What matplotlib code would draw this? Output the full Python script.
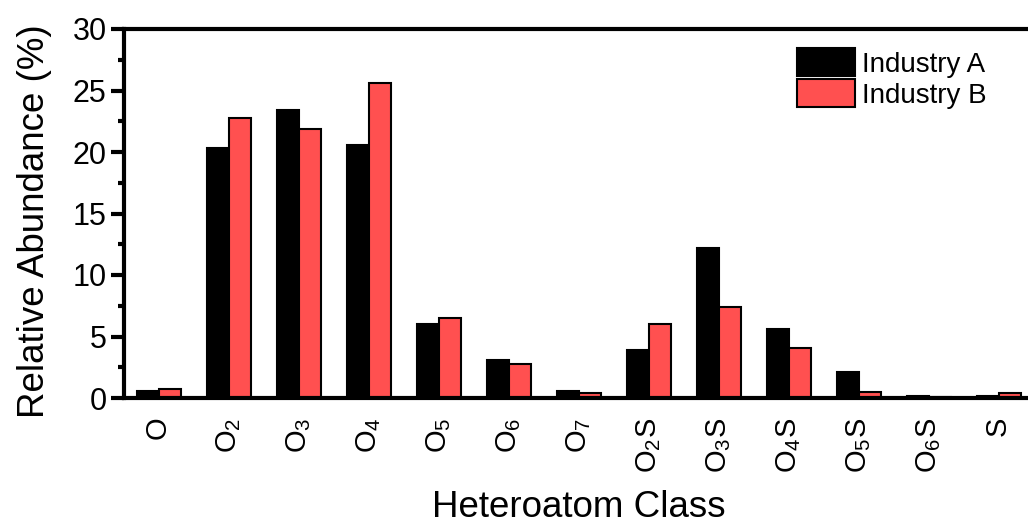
import matplotlib
matplotlib.use("Agg")
import matplotlib.pyplot as plt
import numpy as np
from matplotlib.ticker import MultipleLocator

plt.rcParams['font.family'] = ['Liberation Sans', 'DejaVu Sans']
plt.rcParams['mathtext.fontset'] = 'custom'
plt.rcParams['mathtext.rm'] = 'Liberation Sans'
plt.rcParams['mathtext.it'] = 'Liberation Sans'

categories = [r'$\mathregular{O}$', r'$\mathregular{O_2}$', r'$\mathregular{O_3}$', r'$\mathregular{O_4}$',
              r'$\mathregular{O_5}$', r'$\mathregular{O_6}$', r'$\mathregular{O_7}$',
              r'$\mathregular{O_2S}$', r'$\mathregular{O_3S}$', r'$\mathregular{O_4S}$',
              r'$\mathregular{O_5S}$', r'$\mathregular{O_6S}$', r'$\mathregular{S}$']
industry_a = [0.6, 20.3, 23.4, 20.6, 6.0, 3.1, 0.6, 3.9, 12.2, 5.6, 2.1, 0.15, 0.15]
industry_b = [0.7, 22.8, 21.9, 25.6, 6.5, 2.8, 0.4, 6.0, 7.4, 4.1, 0.5, 0.05, 0.4]

W, H = 1028, 520
fig = plt.figure(figsize=(W/100, H/100), dpi=100)
ax_left, ax_right, ax_top, ax_bot = 124, 124 + 13*70, 29, 398
ax = fig.add_axes([ax_left/W, (H-ax_bot)/H, (ax_right-ax_left)/W, (ax_bot-ax_top)/H])

x = np.arange(len(categories))
bw = 0.315
ax.bar(x - bw/2, industry_a, bw, color='black', edgecolor='black', linewidth=1.5, label='Industry A')
ax.bar(x + bw/2, industry_b, bw, color='#FF5050', edgecolor='black', linewidth=1.5, label='Industry B')

ax.set_xlim(-0.5, 12.5)
ax.set_ylim(0, 30)
ax.set_xticks(x)
ax.set_xticklabels(categories, rotation=90, fontsize=21)
ax.tick_params(axis='x', length=0, pad=14)
ax.yaxis.set_major_locator(MultipleLocator(5))
ax.yaxis.set_minor_locator(MultipleLocator(2.5))
ax.tick_params(axis='y', which='major', direction='out', length=9.5, width=3, labelsize=22, pad=3)
ax.tick_params(axis='y', which='minor', direction='out', length=4.5, width=3)
for s in ax.spines.values():
    s.set_linewidth(3)

ax.set_xlabel('Heteroatom Class', fontsize=26.5, va='top')
ax.xaxis.set_label_coords(0.5, (ax_bot - 490) / (ax_bot - ax_top))
ax.set_ylabel('Relative Abundance (%)', fontsize=26.5)
ax.yaxis.set_label_coords((52 - ax_left) / (ax_right - ax_left), 0.48)

leg = ax.legend(loc='upper left', bbox_to_anchor=(797/W, 1 - 48/H), bbox_transform=fig.transFigure,
                frameon=False, fontsize=20, handlelength=2.1, handleheight=1.2, labelspacing=0.05,
                handletextpad=0.25, borderpad=0, borderaxespad=0)

fig.savefig('out.png', dpi=100)
